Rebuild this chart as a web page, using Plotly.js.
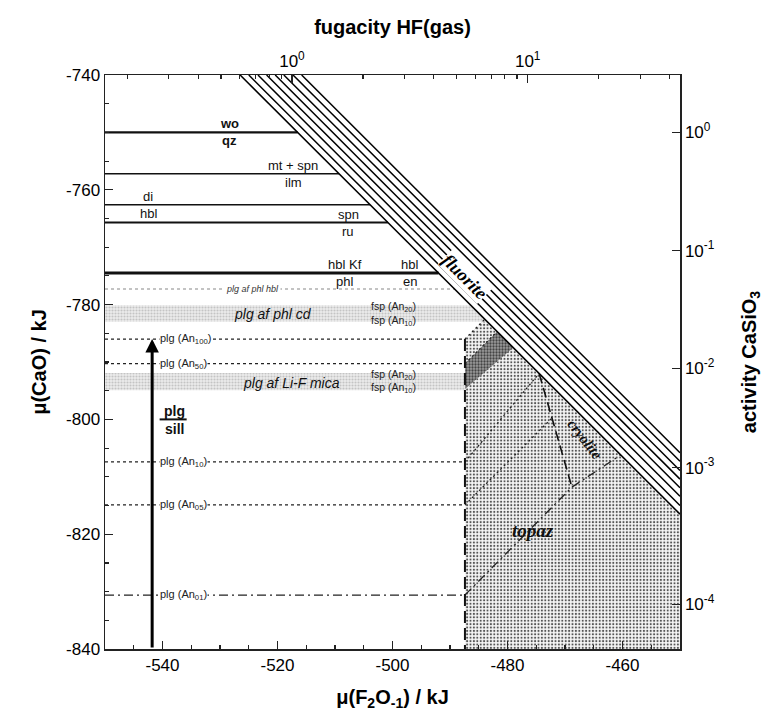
<!DOCTYPE html>
<html>
<head>
<meta charset="utf-8">
<script src="https://cdn.plot.ly/plotly-3.0.1.min.js"></script>
<style>html,body{margin:0;padding:0;background:#fff}#chart{width:773px;height:711px}</style>
</head>
<body>
<div id="chart"></div>
<script>
// ---------------- data ----------------
const X_RANGE = [-550, -450];            // mu(F2O-1) / kJ
const Y_RANGE = [-840, -740];            // mu(CaO) / kJ
const xTickVals = [-540, -520, -500, -480, -460];
const xTickText = ['-540', '-520', '-500', '-480', '-460'];
const yTickVals = [-740, -760, -780, -800, -820, -840];
const yTickText = ['-740', '-760', '-780', '-800', '-820', '-840'];
const HF_LOG_RANGE = [-0.793, 1.646];    // log10 fugacity HF at the x-range ends
const hfTickVals = [1, 10];
const hfTickText = ['10<sup>0</sup>', '10<sup>1</sup>'];
const hfMinorVals = [0.2,0.3,0.4,0.5,0.6,0.7,0.8,0.9,2,3,4,5,6,7,8,9,20,30,40];
const actTickMu = [-750, -770.6, -791.1, -808.4, -832.2];
const actTickText = ['10<sup>0</sup>','10<sup>-1</sup>','10<sup>-2</sup>','10<sup>-3</sup>','10<sup>-4</sup>'];

// horizontal reaction lines
const phaseY    = [-750, -757.2, -762.6, -765.7, -774.5];
const phaseEndX = [-516.5, -509.3, -503.9, -500.8, -492.0];
const labelAbove = ['<b>wo</b>', 'mt + spn', 'di', 'spn', 'hbl Kf', 'hbl'];
const labelBelow = ['<b>qz</b>', 'ilm', 'hbl', 'ru', 'phl', 'en'];
const labelX     = [-528.3, -517.3, -542.5, -507.7, -508.3, -497.0];
const labelLineY = [-750, -757.2, -762.6, -765.7, -774.5, -774.5];

// fluorite band: intercepts c of lines mu(CaO) = -mu(F2O-1) + c
const fluoriteC = [-1266.5, -1265.0, -1263.4, -1261.9, -1260.4, -1258.9, -1257.3, -1255.8];

// plagioclase lines
const plgY   = [-786.0, -790.3, -807.4, -814.9, -830.6];
const plgSub = ['100', '50', '10', '05', '01'];
const plgBoundX = -487.4;
const plgDiagX = [[-483.95], [-481.8], [-474.5], [-472.3], [-468.8, -460.3]];
const plgDiagY = [[-782.55], [-784.7], [-792.0], [-799.8], [-811.8, -806.2]];

// cryolite boundary
const cryX = [-474.5, -468.8];
const cryY = [-792.0, -811.8];

// fields
const topazX = [-487.4, -487.4, -483.95, -450, -450];
const topazY = [-840, -786, -782.55, -816.5, -840];
const darkX = [-487.4, -481.8, -479.0, -487.4];
const darkY = [-790.3, -784.7, -787.5, -794.7];
const cdBandX = [-550, -486.4, -483.5, -550];
const cdBandY = [-780.1, -780.1, -783.0, -783.0];
const micaBandX = [-550, -487.4, -487.4, -550];
const micaBandY = [-791.9, -791.9, -794.9, -794.9];
const hblLineX = [-550, -489.2];
const hblLineY = -777.3;

// arrow plg -> sill and fraction bar
const arrowX = -541.8;
const arrowY = [-840, -786];
const barX = [-540.5, -535.8];
const barY = -800.0;

// ---------------- traces ----------------
const traces = [];
const line = (x, y, color, width, dash) => ({
  type: 'scatter', mode: 'lines', x, y, hoverinfo: 'skip',
  line: {color, width, dash: dash || 'solid'}
});

traces.push({type:'scatter', mode:'lines', x: topazX, y: topazY, fill:'toself',
  fillcolor:'#f4f4f4', line:{width:0, color:'rgba(0,0,0,0)'}, hoverinfo:'skip',
  fillpattern:{shape:'.', size:3.4, solidity:0.3, fgcolor:'#555', bgcolor:'#f6f6f6'}});
traces.push({type:'scatter', mode:'lines', x: darkX, y: darkY, fill:'toself',
  fillcolor:'#888', line:{width:0, color:'rgba(0,0,0,0)'}, hoverinfo:'skip',
  fillpattern:{shape:'.', size:3, solidity:0.45, fgcolor:'#444', bgcolor:'#9c9c9c'}});
[[cdBandX, cdBandY], [micaBandX, micaBandY]].forEach(([bx, by]) => {
  traces.push({type:'scatter', mode:'lines', x: bx, y: by, fill:'toself',
    fillcolor:'#e6e6e6', line:{width:0, color:'rgba(0,0,0,0)'}, hoverinfo:'skip',
    fillpattern:{shape:'.', size:3, solidity:0.4, fgcolor:'#c4c4c4', bgcolor:'#ececec'}});
});
traces.push(line(hblLineX, [hblLineY, hblLineY], '#b0b0b0', 1.5, 'dot'));

// horizontal phase lines
const phaseW = [2.2, 1.3, 1.6, 1.8, 3];
phaseY.forEach((y, i) => traces.push(line([X_RANGE[0], phaseEndX[i]], [y, y], '#111', phaseW[i])));

// plg lines
plgY.forEach((y, i) => {
  const dash = i === 4 ? '9px,4px,2px,4px' : '3px,3px';
  traces.push(line([X_RANGE[0], plgBoundX], [y, y], '#222', 1.3, dash));
  traces.push(line([plgBoundX].concat(plgDiagX[i]), [y].concat(plgDiagY[i]), '#222', 1.3,
    i === 4 ? '9px,4px,2px,4px' : '2px,3px'));
});
// vertical boundary
traces.push(line([plgBoundX, plgBoundX], [plgY[0], Y_RANGE[0]], '#111', 2, '12px,5px'));
// cryolite
traces.push(line(cryX, cryY, '#111', 1.6, '10px,5px'));
// fluorite band
fluoriteC.forEach(c => {
  const xTop = c - Y_RANGE[1];
  const yRight = -X_RANGE[1] + c;
  traces.push(line([xTop, X_RANGE[1]], [Y_RANGE[1], yRight], '#000', 1.5));
});
// plg / sill fraction bar
traces.push(line(barX, [barY, barY], '#111', 2));
// helper traces so that the secondary axes are drawn
traces.push({type:'scatter', mode:'markers', x:[1], y:[-800], xaxis:'x2', yaxis:'y',
  marker:{size:1, opacity:0}, hoverinfo:'skip'});
traces.push({type:'scatter', mode:'markers', x:[-500], y:[-800], xaxis:'x', yaxis:'y2',
  marker:{size:1, opacity:0}, hoverinfo:'skip'});

// ---------------- annotations ----------------
const SANS = 'Liberation Sans, Arial, sans-serif';
const SERIF = 'Liberation Serif, Times New Roman, serif';
const ann = [];
const note = (x, y, text, o) => ann.push(Object.assign({x, y, xref:'x', yref:'y', text,
  showarrow:false, font:{family:SANS, size:13, color:'#111'}}, o || {}));

labelAbove.forEach((t, i) => {
  note(labelX[i], labelLineY[i], t, {yanchor:'bottom', yshift:-1});
  note(labelX[i], labelLineY[i], labelBelow[i], {yanchor:'top', yshift:1});
});
const small = {family:SANS, size:10.5, color:'#222'};
note(-499.9, -780.4, 'fsp (An<sub>20</sub>)', {font:small});
note(-499.9, -782.8, 'fsp (An<sub>10</sub>)', {font:small});
note(-499.9, -792.3, 'fsp (An<sub>20</sub>)', {font:small});
note(-499.9, -794.6, 'fsp (An<sub>10</sub>)', {font:small});
note(-520.8, -781.6, '<i>plg af phl cd</i>', {font:{family:SANS, size:14, color:'#111'}});
note(-517.5, -793.6, '<i>plg af Li-F mica</i>', {font:{family:SANS, size:14, color:'#111'}});
note(-524.3, -777.3, '<i>plg af phl hbl</i>', {font:{family:SANS, size:9, color:'#333'}, bgcolor:'#fff'});
plgY.forEach((y, i) => note(-540.6, y, 'plg (An<sub>' + plgSub[i] + '</sub>)',
  {xanchor:'left', bgcolor:'#fff', borderpad:0, font:{family:SANS, size:11, color:'#222'}}));
note(-538.0, -798.6, '<b>plg</b>', {xanchor:'center', font:{family:SANS, size:14, color:'#111'}});
note(-538.0, -801.6, '<b>sill</b>', {xanchor:'center', font:{family:SANS, size:14, color:'#111'}});
note(-487.4, -775.2, '<b><i>fluorite</i></b>', {textangle:45, bgcolor:'#fff', borderpad:0,
  font:{family:SERIF, size:18, color:'#000'}});
note(-466.6, -803.4, '<b><i>cryolite</i></b>', {textangle:52,
  font:{family:SERIF, size:15, color:'#111'}});
note(-475.6, -819.3, '<b><i>topaz</i></b>', {font:{family:SERIF, size:19, color:'#111'}});
// arrow
ann.push({x: arrowX, y: arrowY[1], ax: arrowX, ay: arrowY[0], xref:'x', yref:'y', axref:'x', ayref:'y',
  showarrow:true, arrowhead:2, arrowsize:0.9, arrowwidth:3, arrowcolor:'#000', text:'', standoff:0});

// ---------------- layout ----------------
const axisCommon = {showline:true, linecolor:'#222', linewidth:1.5, showgrid:false, zeroline:false,
  ticks:'inside', ticklen:8, tickwidth:1.2, tickcolor:'#222', tickfont:{family:SANS, size:17, color:'#000'}};
const layout = {
  width:773, height:711, margin:{l:105, r:93, t:75, b:62},
  paper_bgcolor:'#fff', plot_bgcolor:'#fff', showlegend:false,
  font:{family:SANS, color:'#000'},
  xaxis: Object.assign({}, axisCommon, {range:X_RANGE, tickmode:'array', tickvals:xTickVals, ticktext:xTickText,
    minor:{dtick:5, tick0:-550, ticks:'inside', ticklen:4, tickcolor:'#222'},
    title:{text:'<b>μ(F<sub>2</sub>O<sub>-1</sub>) / kJ</b>', font:{family:SANS, size:20}, standoff:18}}),
  yaxis: Object.assign({}, axisCommon, {range:Y_RANGE, tickmode:'array', tickvals:yTickVals, ticktext:yTickText,
    minor:{dtick:5, tick0:-740, ticks:'inside', ticklen:4, tickcolor:'#222'},
    title:{text:'<b>μ(CaO) / kJ</b>', font:{family:SANS, size:20}, standoff:14}}),
  xaxis2: Object.assign({}, axisCommon, {overlaying:'x', side:'top', anchor:'y', type:'log',
    range:HF_LOG_RANGE, tickmode:'array', tickvals:hfTickVals, ticktext:hfTickText,
    minor:{tickmode:'array', tickvals:hfMinorVals, ticks:'inside', ticklen:4, tickcolor:'#222'},
    title:{text:'<b>fugacity HF(gas)</b>', font:{family:SANS, size:20}, standoff:8}}),
  yaxis2: Object.assign({}, axisCommon, {overlaying:'y', side:'right', anchor:'x',
    range:Y_RANGE, tickmode:'array', tickvals:actTickMu, ticktext:actTickText,
    title:{text:'<b>activity CaSiO<sub>3</sub></b>', font:{family:SANS, size:20}, standoff:28}}),
  annotations: ann
};
Plotly.newPlot('chart', traces, layout, {staticPlot:true, displayModeBar:false});
</script>
</body>
</html>
